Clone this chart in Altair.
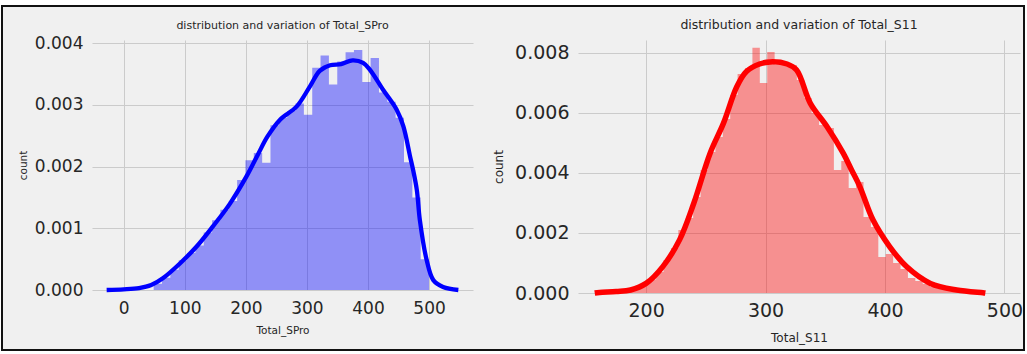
import altair as alt
import pandas as pd

# ---------------- Left panel: Total_SPro ----------------
spro_edges = [49, 62.7, 76.3, 90, 103.7, 117.3, 131, 144.7, 158.3, 172, 185.7, 199.3,
              213, 226.7, 240.3, 254, 267.7, 281.3, 295, 308.7, 322.3, 336, 349.7,
              363.3, 377, 390.7, 404.3, 418, 431.7, 445.3, 459, 472.7, 486.3, 500]
spro_heights = [0.0001, 0.0002, 0.00033, 0.00048, 0.0006, 0.00072, 0.00093, 0.00113,
                0.0013, 0.00144, 0.00178, 0.0021, 0.00222, 0.00206, 0.00267, 0.00279,
                0.0029, 0.00302, 0.00284, 0.0036, 0.0038, 0.00333, 0.0037, 0.00385,
                0.00389, 0.00337, 0.00376, 0.0032, 0.00305, 0.00279, 0.00207, 0.0015,
                0.0005]
spro_kde_x = [-28, 0, 25, 45, 64, 92, 119, 146, 174, 201, 220, 235, 256, 283, 305, 321,
              338, 356, 375, 392, 403, 425, 447, 458, 469, 474, 480, 485, 496, 507,
              523, 548]
spro_kde_y = [0.0, 0.00001, 0.00003, 0.00008, 0.00019, 0.00043, 0.0007, 0.00103, 0.0014,
              0.00184, 0.0022, 0.00248, 0.00276, 0.00297, 0.0033, 0.00355, 0.00364,
              0.00366, 0.00372, 0.00368, 0.00357, 0.00324, 0.00292, 0.00265,
              0.00216, 0.00194, 0.00162, 0.00113, 0.00049, 0.00016, 0.00005, 0.0]

# ---------------- Right panel: Total_S11 ----------------
s11_edges = [165, 171.2, 177.4, 183.6, 189.8, 196, 202.2, 208.4, 214.6, 220.8, 227,
             233.2, 239.4, 245.6, 251.8, 258, 264.2, 270.4, 276.6, 282.8, 289, 295.2,
             301.4, 307.6, 313.8, 320, 326.2, 332.4, 338.6, 344.8, 351, 357.2, 363.4,
             369.6, 375.8, 382, 388.2, 394.4, 400.6, 406.8, 413, 419.2, 425.4, 431.6,
             437.8, 444, 450.2, 456.4, 462.6, 468.8, 475]
s11_heights = [0.00002, 0.00004, 0.00006, 0.0001, 0.00016, 0.0003, 0.00045, 0.0007,
               0.0011, 0.0015, 0.0021, 0.0025, 0.0032, 0.0041, 0.0047, 0.0052, 0.0058,
               0.0066, 0.0073, 0.0075, 0.00817, 0.007, 0.00803, 0.0076, 0.0076, 0.0076,
               0.0071, 0.0065, 0.006, 0.0056, 0.0055, 0.0041, 0.0044, 0.0035, 0.0037,
               0.00253, 0.0022, 0.0012, 0.0013, 0.001, 0.0008, 0.0005, 0.0004, 0.0003,
               0.0002, 0.00014, 0.0001, 0.00006, 0.00003, 0.00002]
s11_kde_x = [157, 161, 175, 187, 200, 214, 228, 240, 253.6, 264.8, 276, 284, 295, 304,
             318, 326, 337.5, 351.5, 365, 372, 379, 390, 404, 418, 438, 460, 482, 484]
s11_kde_y = [0.0, 0.00002, 0.00005, 0.0001, 0.00032, 0.00088, 0.00177, 0.003, 0.00466,
             0.00566, 0.00688, 0.00738, 0.00763, 0.0077, 0.00763, 0.00743, 0.00632,
             0.00554, 0.00466, 0.0041, 0.00354, 0.00243, 0.00154, 0.00088, 0.00032,
             0.0001, 0.00001, 0.0]

titles = ["distribution and variation of Total_SPro",
          "distribution and variation of Total_S11"]

FONT = "DejaVu Sans"
TXT = "#262626"
BG = "#f0f0f0"


def hist_frame(edges, heights):
    xs = list(edges)
    hs = list(heights) + [heights[-1]]
    return pd.DataFrame({"x": xs, "h": hs})


def panel(edges, heights, kx, ky, color, lw, xdom, ydom, xticks, yticks,
          w, h, title, xtitle, tick_fs, title_fs, axt_fs, lab_pad_x, tit_pad_x,
          tit_pad_y, title_y, extra=None):
    xs = alt.Scale(domain=xdom, nice=False, zero=False)
    ys = alt.Scale(domain=ydom, nice=False, zero=False)
    xaxis = alt.Axis(values=xticks, title=xtitle, labelFontSize=tick_fs,
                     titleFontSize=axt_fs, labelPadding=lab_pad_x,
                     titlePadding=tit_pad_x, grid=True)
    yaxis = alt.Axis(values=yticks, format=".3f", title="count",
                     labelFontSize=tick_fs, titleFontSize=axt_fs, labelPadding=9,
                     titlePadding=tit_pad_y, grid=True)
    hist = alt.Chart(hist_frame(edges, heights)).mark_area(
        interpolate="step-after", color=color, opacity=0.4
    ).encode(x=alt.X("x:Q", scale=xs, axis=xaxis), y=alt.Y("h:Q", scale=ys, axis=yaxis))
    kde = alt.Chart(pd.DataFrame({"x": kx, "d": ky})).mark_line(
        color=color, strokeWidth=lw, interpolate="catmull-rom"
    ).encode(x=alt.X("x:Q", scale=xs), y=alt.Y("d:Q", scale=ys))
    ttl = alt.Chart(pd.DataFrame({"t": [title]})).mark_text(
        font=FONT, fontSize=title_fs, color=TXT, align="center", baseline="middle"
    ).encode(text="t:N", x=alt.value(w / 2), y=alt.value(title_y))
    layers = [hist, kde, ttl]
    if extra is not None:
        layers = list(extra) + layers
    return alt.layer(*layers).properties(width=w, height=h)


one = pd.DataFrame({"a": [0]})


def strip(x0, x1, y0, y1):
    return alt.Chart(one).mark_rect(fill="white", strokeWidth=0).encode(
        x=alt.value(x0), x2=alt.value(x1), y=alt.value(y0), y2=alt.value(y1))


# page margins outside the black frame (relative to the left plot origin)
strips = [strip(-92, 935, -40, -35), strip(-92, 935, 311, 314),
          strip(-92, -91, -40, 314), strip(933, 935, -40, 314)]
frame = alt.Chart(one).mark_rect(
    fillOpacity=0, stroke="#111111", strokeWidth=2
).encode(x=alt.value(-90), x2=alt.value(932), y=alt.value(-34), y2=alt.value(310))

left = panel(spro_edges, spro_heights, spro_kde_x, spro_kde_y, "#0000ff", 4.3,
             [-52, 572], [0, 0.00405], [0, 100, 200, 300, 400, 500],
             [0, 0.001, 0.002, 0.003, 0.004], 381, 250,
             titles[0], "Total_SPro", 17, 11, 10.5,
             10, 9, 6, -14, extra=strips + [frame])
right = panel(s11_edges, s11_heights, s11_kde_x, s11_kde_y, "#ff0000", 5.5,
              [143, 513], [0, 0.00843], [200, 300, 400, 500],
              [0, 0.002, 0.004, 0.006, 0.008], 442, 253,
              titles[1], "Total_S11", 19, 12.5, 12,
              8, 12, 9, -15)

chart = alt.hconcat(left, right, spacing=105, bounds="flush").properties(
    background=BG,
    padding={"left": 0, "top": 0, "right": 0, "bottom": 0},
).configure_view(stroke=None).configure_axis(
    labelFont=FONT, titleFont=FONT, labelColor=TXT, titleColor=TXT,
    titleFontWeight="normal", gridColor="#cbcbcb", gridWidth=1,
    domain=False, ticks=False,
)

chart.save("out.html", embed_options={"renderer": "svg", "actions": False})
